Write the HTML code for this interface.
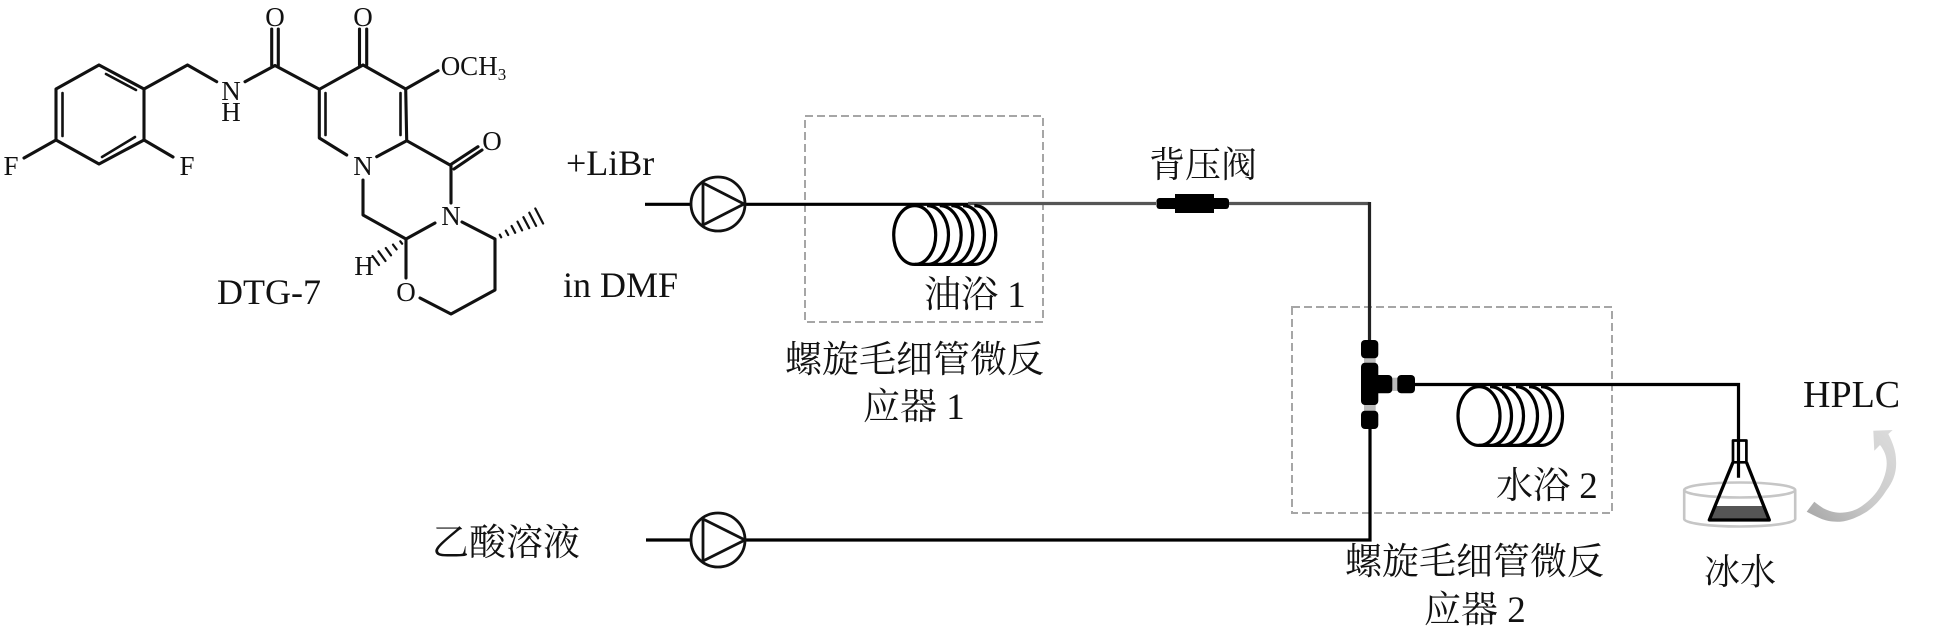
<!DOCTYPE html>
<html lang="zh">
<head>
<meta charset="utf-8">
<title>DTG-7 flow diagram</title>
<style>
html,body{margin:0;padding:0;background:#fff}
svg{display:block}
text{font-family:"Liberation Serif","Noto Serif CJK SC",serif;fill:#111}
.a{font-size:27px;text-anchor:middle}
.t{font-size:36px}
.c{font-size:37px}
</style>
</head>
<body>
<svg width="1934" height="640" viewBox="0 0 1934 640" xmlns="http://www.w3.org/2000/svg">
<defs>
<linearGradient id="arr" x1="0" y1="1" x2="1" y2="0">
<stop offset="0" stop-color="#a6a6a6"/><stop offset=".45" stop-color="#cacaca"/><stop offset="1" stop-color="#dcdcdc"/>
</linearGradient>
</defs>

<!-- molecule bonds -->
<g fill="none" stroke="#111" stroke-width="3.1" stroke-linecap="round" stroke-linejoin="round">
<path d="M99 65L144 89L144 140L99 164L56 140L56 89Z"/>
<path stroke-width="2.600" d="M106 74L136 90M62.500 93L62.500 136M102 157L135 137"/>
<path d="M56 140L24 158M144 140L173 157M144 89L187.500 65L216.700 81.700M245 81.700L275 65.500L319.300 89.300"/>
<path d="M271.700 65.500L271.700 29M278.300 65.500L278.300 29M359.500 65L359.500 29M366.700 65L366.700 29"/>
<path d="M319.300 89.300L363 65L405.700 89L438 70.700"/>
<path d="M319.300 89.300L319.300 138L346.700 155M405.700 89L406.700 140.700L376.700 156.700"/>
<path stroke-width="2.600" d="M325.500 93L325.500 135M400.500 93L400.500 135"/>
<path d="M406.700 140.700L450 165L478 146.700M454 169L482 150"/>
<path d="M363 180L363 215L406 239L435 223M451 165L451 203M462 222L495 239L495 290L451 314L420 298M406 239L406 278"/>
<path stroke-width="2.200" d="M499.800 234.700L501.200 237.300M505.800 230.600L508.200 235M511.600 226L515.200 232.800M517.500 221.600L522.100 230.400M523.400 217.200L529.200 228.200M529.300 212.700L536.100 225.900M535.300 208.500L543.100 223.500"/>
<path stroke-width="2.200" d="M400.300 241.300L402.100 243.700M393 244.600L396.600 249.400M385.800 248L391 255.300M378.500 251.300L385.500 261M372.500 256L379 265"/>
</g>

<!-- atom labels -->
<text class="a" x="11" y="175">F</text>
<text class="a" x="187" y="175">F</text>
<text class="a" x="231" y="100">N</text>
<text class="a" x="231" y="121">H</text>
<text class="a" x="275" y="26">O</text>
<text class="a" x="363" y="26">O</text>
<text x="440.700" y="75" font-size="27">OCH<tspan font-size="17" dy="5">3</tspan></text>
<text class="a" x="492" y="150">O</text>
<text class="a" x="363" y="175">N</text>
<text class="a" x="451" y="225">N</text>
<text class="a" x="406" y="301">O</text>
<text class="a" x="364" y="275">H</text>

<text class="t" x="217" y="304">DTG-7</text>
<text class="t" x="566" y="175">+LiBr</text>
<text class="t" x="563" y="297">in DMF</text>

<!-- dashed boxes -->
<rect x="805" y="116" width="238" height="206" fill="none" stroke="#a6a6a6" stroke-width="2" stroke-dasharray="8 4"/>
<rect x="1292" y="307" width="320" height="206" fill="none" stroke="#a6a6a6" stroke-width="2" stroke-dasharray="8 4"/>

<!-- lines -->
<g fill="none" stroke-width="3.2">
<path stroke="#000" d="M645 204.300H691M745 204.300H968"/>
<path stroke="#555" d="M968 203.500H1156M1229 203.500H1369.500"/>
<path stroke="#222" d="M1369.500 202V340"/>
<path stroke="#000" d="M1370 428V541.500M646 540H1371.600M1414 384.500H1738.500V477.700"/>
</g>

<!-- pumps -->
<g fill="#fff" stroke="#111" stroke-width="2.800" stroke-linejoin="round">
<circle cx="718" cy="204" r="27"/>
<path d="M703 183L744 204L703 225Z"/>
<circle cx="718" cy="540" r="27"/>
<path d="M703 519L745 540L703 561Z"/>
</g>

<!-- coil 1 -->
<g fill="none" stroke="#000" stroke-width="3.2">
<path d="M927 205.600A21.500 29.400 0 0 1 927 264.400M939.700 205.600A21.500 29.400 0 0 1 939.700 264.400M951.300 205.600A21.500 29.400 0 0 1 951.300 264.400M963 205.600A21.500 29.400 0 0 1 963 264.400M974.300 205.600A21.500 29.400 0 0 1 974.300 264.400M915 264.400H974.300"/>
<ellipse cx="914.700" cy="235" rx="21" ry="29.400"/>
<!-- coil 2 -->
<path d="M1490 386.600A21.500 29.400 0 0 1 1490 445.400M1502 386.600A21.500 29.400 0 0 1 1502 445.400M1516 386.600A21.500 29.400 0 0 1 1516 445.400M1529 386.600A21.500 29.400 0 0 1 1529 445.400M1541 386.600A21.500 29.400 0 0 1 1541 445.400M1479 445.400H1541"/>
<ellipse cx="1479" cy="416" rx="21" ry="29.400"/>
</g>

<!-- back-pressure valve -->
<rect x="1156.500" y="198" width="72.500" height="11" rx="3" fill="#000"/>
<rect x="1175" y="194" width="39" height="19" fill="#000"/>

<!-- T connector -->
<rect x="1364" y="357" width="11.700" height="7" fill="#bbb"/>
<rect x="1364" y="404" width="11.700" height="7" fill="#bbb"/>
<rect x="1391" y="377.700" width="7" height="13.300" fill="#bbb"/>
<rect x="1361" y="340" width="17.300" height="18.300" rx="4" fill="#000"/>
<rect x="1361" y="362.700" width="17.300" height="42.300" rx="4" fill="#000"/>
<rect x="1374" y="375" width="18.300" height="18.300" rx="4" fill="#000"/>
<rect x="1397.300" y="375" width="17.700" height="18.300" rx="4" fill="#000"/>
<rect x="1361" y="410.700" width="17.300" height="18.300" rx="4" fill="#000"/>

<!-- ice bath and flask -->
<g fill="none" stroke="#c6c6c6" stroke-width="2.600">
<ellipse cx="1739.700" cy="490" rx="55.500" ry="7.500"/>
<path d="M1684.200 490V519A55.500 7.500 0 0 0 1795.200 519V490"/>
</g>
<path d="M1715 506H1764L1769.300 520H1709.300Z" fill="#555"/>
<g fill="none" stroke="#000" stroke-linejoin="round">
<path stroke-width="3.300" d="M1733 462.300L1709.300 520H1769.300L1746.500 462.300"/>
<rect x="1733" y="440.500" width="13.400" height="21.800" stroke-width="2.700"/>
</g>

<!-- curved arrow -->
<path d="M1873.300 430.700L1892.700 430L1888.300 434C1893 443 1896 452 1896 460C1897 472 1893 482 1886.700 490C1881 499 1875 506 1866.700 511.700C1858 517 1849 521 1840 521.700C1832 522 1826 521 1820 518.300C1815 516 1811 514 1806.700 511.700L1814.300 501.700C1817 504 1820 506 1823.300 508.300C1829 511 1834 512.700 1840 512.700C1849 512.700 1857 510 1863.300 505C1870 500 1876 494 1880 486.700C1884 479 1886.700 471 1886.700 463.300C1886.700 456 1884 450 1880 445L1874.300 450.700Z" fill="url(#arr)"/>

<!-- labels -->
<text class="c" x="924" y="307">油浴 1</text>
<text class="c" x="785" y="372">螺旋毛细管微反</text>
<text class="c" x="863" y="419">应器 1</text>
<text class="t" x="1149" y="177">背压阀</text>
<text class="c" x="1496" y="498">水浴 2</text>
<text class="c" x="1345" y="574">螺旋毛细管微反</text>
<text class="c" x="1424" y="622">应器 2</text>
<text class="t" x="1704" y="584">冰水</text>
<text x="1803" y="407" font-size="38">HPLC</text>
<text class="c" x="432" y="555">乙酸溶液</text>
</svg>
</body>
</html>
